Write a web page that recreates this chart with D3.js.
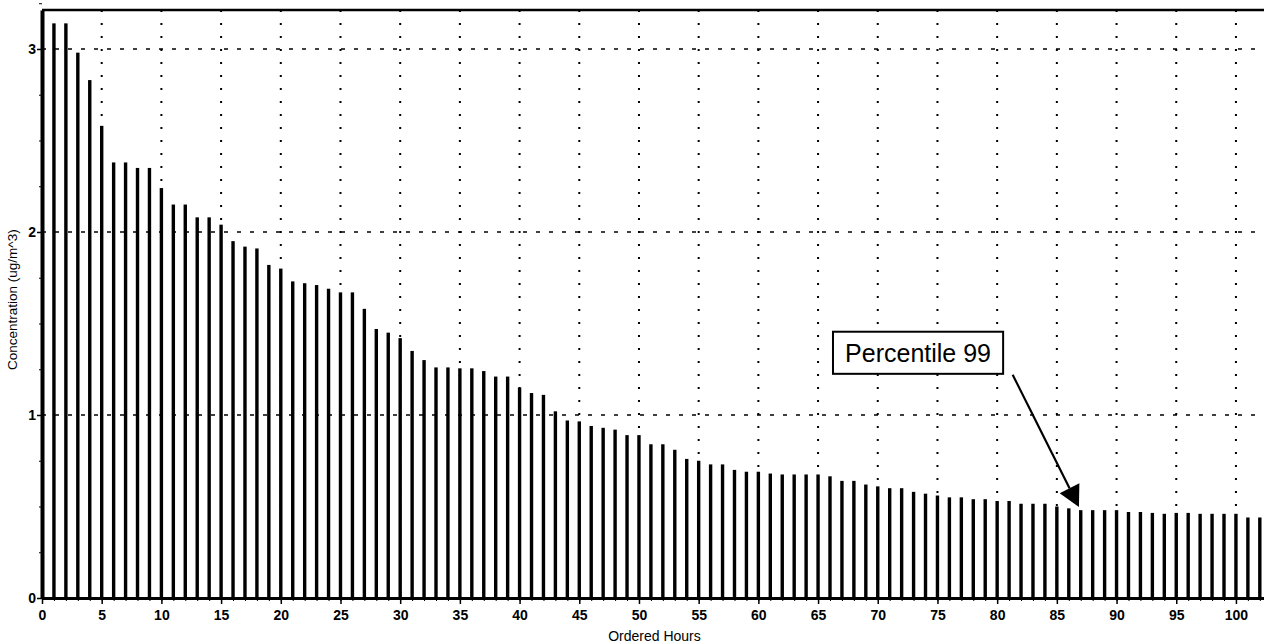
<!DOCTYPE html>
<html>
<head>
<meta charset="utf-8">
<script src="https://cdn.jsdelivr.net/npm/d3@7"></script>
<style>
  body { margin: 0; background: #fff; }
  text { font-family: "Liberation Sans", Arial, sans-serif; fill: #000; }
</style>
</head>
<body>
<div id="chart"></div>
<script>
// Concentration for each ordered hour, highest first (hour 1 .. 102)
var concentrations = [
  3.14, 3.14, 2.98, 2.83, 2.58, 2.38, 2.38, 2.35, 2.35, 2.24,
  2.15, 2.15, 2.08, 2.08, 2.04, 1.95, 1.92, 1.91, 1.82, 1.80,
  1.73, 1.72, 1.71, 1.69, 1.67, 1.67, 1.58, 1.47, 1.45, 1.42,
  1.35, 1.30, 1.26, 1.26, 1.255, 1.255, 1.24, 1.21, 1.21, 1.15,
  1.12, 1.11, 1.02, 0.97, 0.965, 0.94, 0.93, 0.92, 0.89, 0.89,
  0.84, 0.84, 0.81, 0.76, 0.75, 0.73, 0.73, 0.70, 0.69, 0.69,
  0.68, 0.675, 0.675, 0.675, 0.675, 0.665, 0.64, 0.64, 0.62, 0.61,
  0.60, 0.60, 0.58, 0.57, 0.56, 0.55, 0.55, 0.54, 0.54, 0.53,
  0.53, 0.515, 0.515, 0.515, 0.50, 0.49, 0.48, 0.48, 0.48, 0.48,
  0.47, 0.47, 0.465, 0.46, 0.465, 0.465, 0.46, 0.46, 0.46, 0.46,
  0.44, 0.44
];

var xTickValues = [0, 5, 10, 15, 20, 25, 30, 35, 40, 45, 50, 55, 60, 65, 70, 75, 80, 85, 90, 95, 100];
var yTickValues = [0, 1, 2, 3];

// annotation: label box corners and arrow, in data units
var noteText = "Percentile 99";
var noteBox = { x0: 66.25, x1: 80.5, y0: 1.455, y1: 1.225 };
var noteArrow = { x0: 81.3, y0: 1.22, x1: 86.85, y1: 0.497 };

var margin = { left: 42, right: 0, top: 10, bottom: 45 };

var width = 1264 - margin.left - margin.right,
    height = 643 - margin.top - margin.bottom;

var svg = d3.select("#chart")
    .append("svg")
        .attr("width", width + margin.left + margin.right)
        .attr("height", height + margin.top + margin.bottom);

var g = svg.append("g")
    .attr("transform", "translate(" + margin.left + ", " + margin.top + ")");

var data = concentrations.map(function(v, i) {
    return { hour: i + 1, value: v };
});

// X Scale
var x = d3.scaleLinear()
    .domain([0, 102.35])
    .range([0, width]);

// Y Scale
var y = d3.scaleLinear()
    .domain([0, 3.213])
    .range([height, 0]);

// Grid - vertical dotted every 5 hours
g.append("g")
    .selectAll("line")
    .data(xTickValues.filter(function(d) { return d > 0; }))
    .enter()
    .append("line")
        .attr("x1", function(d) { return x(d); })
        .attr("x2", function(d) { return x(d); })
        .attr("y1", 0)
        .attr("y2", height)
        .attr("stroke", "#000")
        .attr("stroke-width", 2)
        .attr("stroke-dasharray", "2,11");

// Grid - horizontal dashed
g.append("g")
    .selectAll("line")
    .data(yTickValues.filter(function(d) { return d > 0; }))
    .enter()
    .append("line")
        .attr("x1", 0)
        .attr("x2", width)
        .attr("y1", function(d) { return y(d); })
        .attr("y2", function(d) { return y(d); })
        .attr("stroke", "#000")
        .attr("stroke-width", 1.5)
        .attr("stroke-dasharray", "4,9");

// Bars
g.selectAll("rect.bar")
    .data(data)
    .enter()
    .append("rect")
        .attr("class", "bar")
        .attr("x", function(d) { return x(d.hour) - 1.7; })
        .attr("width", 3.4)
        .attr("y", function(d) { return y(d.value); })
        .attr("height", function(d) { return height - y(d.value); })
        .attr("fill", "#000");

// Minor ticks
var xMinor = d3.axisBottom(x)
    .tickValues(d3.range(0, 103, 1))
    .tickSize(3)
    .tickFormat("");
g.append("g")
    .attr("transform", "translate(0," + height + ")")
    .call(xMinor)
    .call(function(s) { s.select(".domain").remove(); });

var yMinor = d3.axisLeft(y)
    .tickValues(d3.range(0, 3.26, 0.25))
    .tickSize(3)
    .tickFormat("");
g.append("g")
    .call(yMinor)
    .call(function(s) { s.select(".domain").remove(); });

// X Axis
var xAxisCall = d3.axisBottom(x)
    .tickValues(xTickValues)
    .tickSize(6)
    .tickSizeOuter(0)
    .tickPadding(6)
    .tickFormat(function(d) { return d; });
var xAxis = g.append("g")
    .attr("class", "x axis")
    .attr("transform", "translate(0," + height + ")")
    .call(xAxisCall);
xAxis.select(".domain").attr("stroke-width", 3);
xAxis.selectAll(".tick line").attr("stroke-width", 1.5);
xAxis.selectAll("text")
    .attr("font-size", "14px")
    .attr("font-weight", "bold")
    .attr("font-family", "'Liberation Sans', Arial, sans-serif");

// Y Axis
var yAxisCall = d3.axisLeft(y)
    .tickValues(yTickValues)
    .tickSize(5)
    .tickSizeOuter(0)
    .tickPadding(1)
    .tickFormat(function(d) { return d; });
var yAxis = g.append("g")
    .attr("class", "y axis")
    .call(yAxisCall);
yAxis.select(".domain").attr("stroke-width", 4);
yAxis.selectAll(".tick line").attr("stroke-width", 1.5);
yAxis.selectAll("text")
    .attr("font-size", "14px")
    .attr("font-weight", "bold")
    .attr("font-family", "'Liberation Sans', Arial, sans-serif");

// top frame
g.append("line")
    .attr("x1", 0)
    .attr("x2", width)
    .attr("y1", 0)
    .attr("y2", 0)
    .attr("stroke", "#000")
    .attr("stroke-width", 2.5);

// X Label
g.append("text")
    .attr("y", height + 43)
    .attr("x", x(51.3))
    .attr("font-size", "14px")
    .attr("text-anchor", "middle")
    .text("Ordered Hours");

// Y Label
g.append("text")
    .attr("y", -25)
    .attr("x", -(y(1.63)))
    .attr("font-size", "13.5px")
    .attr("text-anchor", "middle")
    .attr("transform", "rotate(-90)")
    .text("Concentration (ug/m^3)");

// Annotation box
var note = g.append("g");
note.append("rect")
    .attr("x", x(noteBox.x0))
    .attr("y", y(noteBox.y0))
    .attr("width", x(noteBox.x1) - x(noteBox.x0))
    .attr("height", y(noteBox.y1) - y(noteBox.y0))
    .attr("fill", "#fff")
    .attr("stroke", "#000")
    .attr("stroke-width", 2);
note.append("text")
    .attr("x", (x(noteBox.x0) + x(noteBox.x1)) / 2)
    .attr("y", (y(noteBox.y0) + y(noteBox.y1)) / 2 + 9)
    .attr("font-size", "25px")
    .attr("text-anchor", "middle")
    .text(noteText);

// Arrow
var ax0 = x(noteArrow.x0), ay0 = y(noteArrow.y0),
    ax1 = x(noteArrow.x1), ay1 = y(noteArrow.y1);
var len = Math.sqrt((ax1 - ax0) * (ax1 - ax0) + (ay1 - ay0) * (ay1 - ay0));
var ux = (ax1 - ax0) / len, uy = (ay1 - ay0) / len;
var headLen = 21, headHalf = 11;
var bx = ax1 - ux * headLen, by = ay1 - uy * headLen;

note.append("line")
    .attr("x1", ax0)
    .attr("y1", ay0)
    .attr("x2", bx)
    .attr("y2", by)
    .attr("stroke", "#000")
    .attr("stroke-width", 2.2);
note.append("polygon")
    .attr("points", [
        [ax1, ay1],
        [bx - uy * headHalf, by + ux * headHalf],
        [bx + uy * headHalf, by - ux * headHalf]
    ].map(function(p) { return p.join(","); }).join(" "))
    .attr("fill", "#000");
</script>
</body>
</html>
